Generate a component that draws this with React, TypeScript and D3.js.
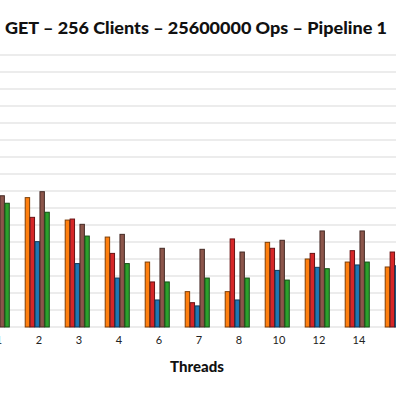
import React from "react";
import * as d3 from "d3";

const threads = ["1", "2", "3", "4", "6", "7", "8", "10", "12", "14", "16"];
const seriesNames = ["Series A", "Series B", "Series C", "Series D", "Series E"];
const seriesColors = ["#ff7f0e", "#d62728", "#1f77b4", "#8c564b", "#2ca02c"];
const seriesA = [780, 761, 629, 529, 382, 208, 208, 498, 400, 382, 353];
const seriesB = [700, 645, 635, 433, 265, 143, 518, 463, 433, 449, 441];
const seriesC = [560, 502, 373, 288, 159, 124, 159, 333, 351, 365, 360];
const seriesD = [772, 796, 604, 545, 463, 457, 441, 510, 565, 565, 560];
const seriesE = [728, 675, 535, 373, 265, 288, 288, 276, 343, 382, 380];
const gridTicks = d3.range(0, 1700, 100);

const title = "GET \u2013 256 Clients \u2013 25600000 Ops \u2013 Pipeline 1";
const xTitle = "Threads";

export default function App() {
  const W = 396, H = 396;
  const allSeries = [seriesA, seriesB, seriesC, seriesD, seriesE];
  const x = d3.scaleBand<string>().domain(threads).range([-23, -23 + threads.length * 40]).paddingInner(0.385).paddingOuter(0.1925);
  const xs = d3.scaleBand<string>().domain(seriesNames).range([0, x.bandwidth()]);
  const y = d3.scaleLinear().domain([0, 1600]).range([327, 55]);
  const font = "Lato, 'DejaVu Sans', sans-serif";
  return (
    <svg width={W} height={H} style={{ position: "absolute", left: 0, top: 0, background: "#fff" }}>
      <rect width={W} height={H} fill="#fff" />
      {gridTicks.map((t) => (
        <line key={t} x1={0} x2={W} y1={y(t)} y2={y(t)} stroke="#e6e6e6" strokeWidth={1.5} />
      ))}
      {threads.map((th, i) => (
        <g key={th} transform={`translate(${x(th)},0)`}>
          {allSeries.map((s, j) => {
            const v = s[i];
            const c = seriesColors[j];
            return (
              <rect
                key={j}
                x={xs(seriesNames[j])! + 0.5}
                y={y(v)}
                width={xs.bandwidth() - 0.5}
                height={y(0) - y(v)}
                fill={c}
                stroke={d3.color(c)!.darker(2).toString()}
                strokeWidth={1}
              />
            );
          })}
          {i < threads.length - 1 && (
            <text
              x={x.bandwidth() / 2 + 2}
              y={344}
              textAnchor="middle"
              fontFamily={font}
              fontSize={11}
              fill="#222"
            >
              {th}
            </text>
          )}
        </g>
      ))}
      <text x={196} y={34} textAnchor="middle" fontFamily={font} fontWeight="900" fontSize={16.5} fill="#111" textLength={382} lengthAdjust="spacingAndGlyphs">
        {title}
      </text>
      <text x={197} y={372} textAnchor="middle" fontFamily={font} fontWeight="900" fontSize={15} fill="#111">
        {xTitle}
      </text>
    </svg>
  );
}
